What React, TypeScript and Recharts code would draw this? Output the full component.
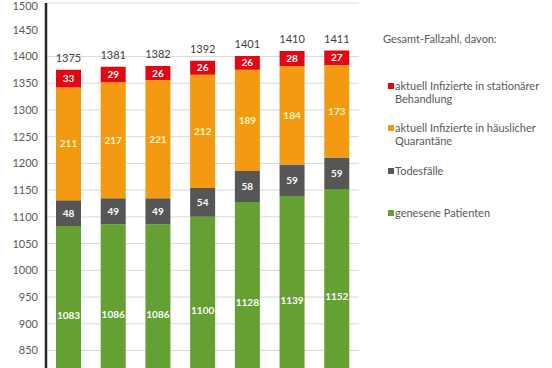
import { BarChart, Bar, XAxis, YAxis, CartesianGrid, LabelList } from 'recharts';

const days = ['1', '2', '3', '4', '5', '6', '7'];
const genesen = [1083, 1086, 1086, 1100, 1128, 1139, 1152];
const todesfaelle = [48, 49, 49, 54, 58, 59, 59];
const haeuslich = [211, 217, 221, 212, 189, 184, 173];
const stationaer = [33, 29, 26, 26, 26, 28, 27];
const gesamt = [1375, 1381, 1382, 1392, 1401, 1410, 1411];
const yTicks = [850, 900, 950, 1000, 1050, 1100, 1150, 1200, 1250, 1300, 1350, 1400, 1450, 1500];

const FONT = 'Lato, "Open Sans", sans-serif';

const data = days.map((day, i) => ({
  day,
  genesen: genesen[i],
  tod: todesfaelle[i],
  haus: haeuslich[i],
  stat: stationaer[i],
  total: gesamt[i],
}));

const legendItems = [
  { color: '#E30613', lines: ['aktuell Infizierte in stationärer', 'Behandlung'], top: 79 },
  { color: '#F39A12', lines: ['aktuell Infizierte in häuslicher', 'Quarantäne'], top: 121 },
  { color: '#565656', lines: ['Todesfälle'], top: 164 },
  { color: '#64A032', lines: ['genesene Patienten'], top: 206 },
];

const segLabel = { fontSize: 10, fontWeight: 700, fontFamily: FONT };

export default function App() {
  return (
    <div style={{ position: 'absolute', left: 0, top: 0, width: 552, height: 368, overflow: 'hidden', background: '#fff' }}>
      <BarChart width={552} height={404} data={data} margin={{ top: 3, right: 193, bottom: 0, left: 0 }}>
        <CartesianGrid horizontal vertical={false} stroke="#d9d9d9" />
        <XAxis dataKey="day" hide />
        <YAxis
          width={46}
          domain={[750, 1500]}
          ticks={yTicks}
          allowDataOverflow
          tickLine={false}
          axisLine={{ stroke: '#262626', strokeWidth: 2.5 }}
          tick={{ fill: '#595959', fontSize: 11, fontFamily: FONT }}
        />
        <Bar dataKey="genesen" stackId="a" fill="#64A032" barSize={25} isAnimationActive={false}>
          <LabelList dataKey="genesen" position="center" fill="#ffffff" style={segLabel} />
        </Bar>
        <Bar dataKey="tod" stackId="a" fill="#565656" barSize={25} isAnimationActive={false}>
          <LabelList dataKey="tod" position="center" fill="#ffffff" style={segLabel} />
        </Bar>
        <Bar dataKey="haus" stackId="a" fill="#F39A12" barSize={25} isAnimationActive={false}>
          <LabelList dataKey="haus" position="center" fill="#FFF4C8" style={segLabel} />
        </Bar>
        <Bar dataKey="stat" stackId="a" fill="#E30613" barSize={25} isAnimationActive={false}>
          <LabelList dataKey="stat" position="center" fill="#ffffff" style={segLabel} />
          <LabelList dataKey="total" position="top" offset={8} fill="#404040" style={{ fontSize: 11, fontFamily: FONT }} />
        </Bar>
      </BarChart>

      <div style={{ position: 'absolute', left: 383, top: 32, fontFamily: FONT, fontSize: 11, color: '#595959', whiteSpace: 'nowrap' }}>
        Gesamt-Fallzahl, davon:
      </div>
      {legendItems.map((item) => (
        <div key={item.lines[0]} style={{ position: 'absolute', left: 388, top: item.top, fontFamily: FONT, fontSize: 11, lineHeight: '13px', color: '#595959', whiteSpace: 'nowrap' }}>
          <span style={{ position: 'absolute', left: 0, top: 4, width: 6, height: 6, background: item.color }} />
          <div style={{ paddingLeft: 7 }}>
            {item.lines.map((l) => (
              <div key={l}>{l}</div>
            ))}
          </div>
        </div>
      ))}
    </div>
  );
}
